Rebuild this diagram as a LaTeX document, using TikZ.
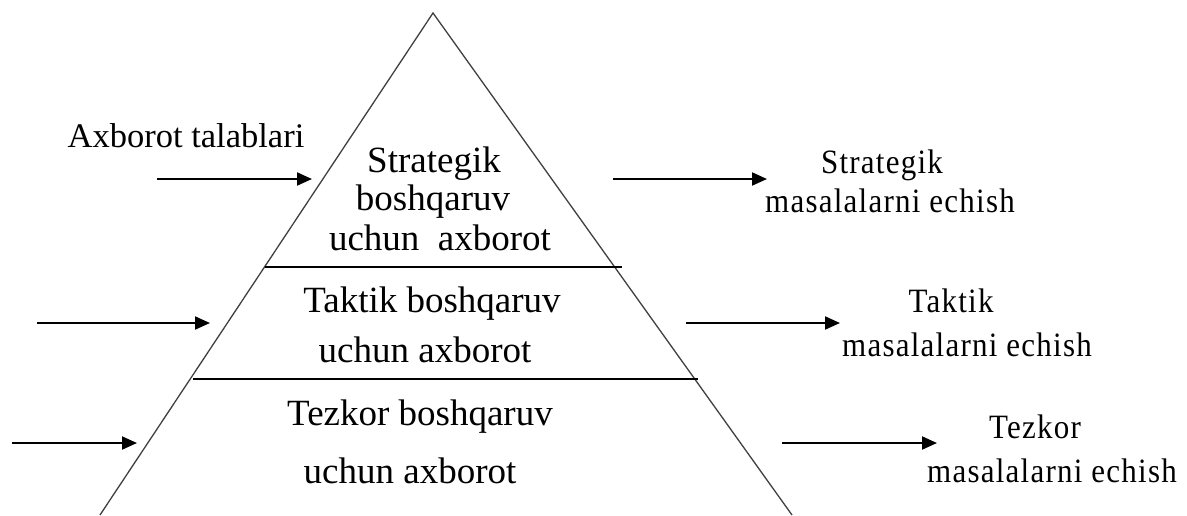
\documentclass[tikz,border=0pt]{standalone}
\usepackage{fontspec}
\usepackage{graphicx}
\setmainfont{Liberation Serif}
\newfontfamily\spacedserif[LetterSpace=4]{Liberation Serif}
\usetikzlibrary{arrows.meta}

% slightly stretched line of text
\newcommand{\tallrow}[1]{\scalebox{1}[1.1]{#1}}

\tikzset{
  edge/.style={draw=black!75, line width=1.3pt},
  tier/.style={draw=black, line width=1.6pt},
  flow/.style={draw=black, line width=2pt, -{Triangle[length=15pt,width=13pt]}},
  reqlabel/.style={anchor=base, inner sep=0pt, font=\fontsize{34.5}{38}\selectfont},
  inlabel/.style={anchor=base, inner sep=0pt, font=\fontsize{37}{40}\selectfont},
  outlabel/.style={anchor=base, inner sep=0pt, font=\fontsize{31}{34}\spacedserif},
}

\begin{document}
\begin{tikzpicture}[x=1pt, y=-1pt]
\path[use as bounding box, fill=white] (0,0) rectangle (1187,515);

% pyramid outline
\coordinate (apex) at (433,13);
\coordinate (baseL) at (100,515);
\coordinate (baseR) at (792,515);
\draw[edge] (baseL) -- (apex) -- (baseR);

% tier separators
\coordinate (t1L) at (265,267);
\coordinate (t1R) at (622,267);
\coordinate (t2L) at (193,379);
\coordinate (t2R) at (698,379);
\draw[tier] (t1L) -- (t1R);
\draw[tier] (t2L) -- (t2R);

% text inside the pyramid
\node[inlabel] (s1) at (434,172) {Strategik};
\node[inlabel] (s2) at (433,210) {boshqaruv};
\node[inlabel] (s3) at (440,250) {uchun\ \ axborot};
\node[inlabel] (k1) at (432,312) {Taktik boshqaruv};
\node[inlabel] (k2) at (425,362) {uchun axborot};
\node[inlabel] (z1) at (420,425) {Tezkor boshqaruv};
\node[inlabel] (z2) at (410,483) {uchun axborot};

% requirement label
\node[reqlabel] (req) at (186,147) {Axborot talablari};

% labels on the right
\node[outlabel] (rs1) at (882,173) {\tallrow{Strategik}};
\node[outlabel] (rs2) at (890,212) {\tallrow{masalalarni echish}};
\node[outlabel] (rk1) at (951,312) {\tallrow{Taktik}};
\node[outlabel] (rk2) at (967,356) {\tallrow{masalalarni echish}};
\node[outlabel] (rz1) at (1035,438) {\tallrow{Tezkor}};
\node[outlabel] (rz2) at (1052,482) {\tallrow{masalalarni echish}};

% incoming arrows
\coordinate (in1a) at (157,179);
\coordinate (in1b) at (312,179);
\coordinate (in2a) at (37,323);
\coordinate (in2b) at (210,323);
\coordinate (in3a) at (12,443);
\coordinate (in3b) at (137,443);
\draw[flow] (in1a) -- (in1b);
\draw[flow] (in2a) -- (in2b);
\draw[flow] (in3a) -- (in3b);

% outgoing arrows
\coordinate (out1a) at (613,179);
\coordinate (out1b) at (767,179);
\coordinate (out2a) at (686,323);
\coordinate (out2b) at (840,323);
\coordinate (out3a) at (782,443);
\coordinate (out3b) at (937,443);
\draw[flow] (out1a) -- (out1b);
\draw[flow] (out2a) -- (out2b);
\draw[flow] (out3a) -- (out3b);
\end{tikzpicture}
\end{document}
